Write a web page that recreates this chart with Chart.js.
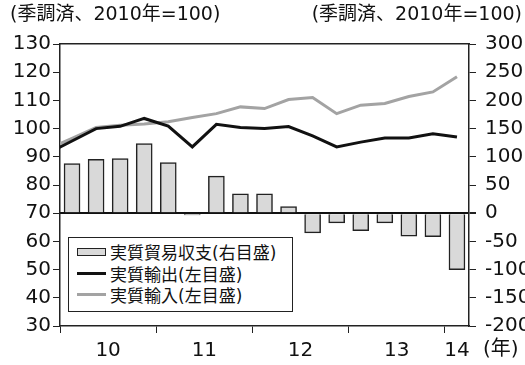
<!DOCTYPE html>
<html lang="ja">
<head>
<meta charset="utf-8">
<title>実質輸出入と実質貿易収支</title>
<script src="https://cdn.jsdelivr.net/npm/chart.js@4.4.1/dist/chart.umd.min.js"></script>
<style>
  body { margin: 0; background: #fff; }
  #wrap { position: relative; width: 525px; height: 365px; }
  #legend {
    position: absolute; left: 68px; top: 237px; width: 225px; height: 75px;
    box-sizing: border-box; border: 1.5px solid #222; background: #fff;
    padding: 3px 0 0 8px; color: #111;
    font: 17px "DejaVu Sans", "Noto Sans CJK JP", sans-serif;
  }
  .row { display: flex; align-items: center; height: 21.5px; white-space: nowrap; }
  .sw { width: 29px; margin-right: 4px; box-sizing: border-box; }
</style>
</head>
<body>
<div id="wrap">
  <canvas id="myChart" width="525" height="365"></canvas>
  <div id="legend"></div>
</div>
<script>
const quarters = ["2009Q4",
  "2010Q1", "2010Q2", "2010Q3", "2010Q4",
  "2011Q1", "2011Q2", "2011Q3", "2011Q4",
  "2012Q1", "2012Q2", "2012Q3", "2012Q4",
  "2013Q1", "2013Q2", "2013Q3", "2013Q4",
  "2014Q1"]
const yearLabels = ["10", "11", "12", "13", "14"]

// 実質輸出・実質輸入 (2010年=100, 左目盛)
const realExports = [91.3, 95.6, 100.0, 100.8, 103.6, 100.9, 93.5, 101.5, 100.4,
  100.0, 100.7, 97.4, 93.5, 95.2, 96.7, 96.7, 98.2, 97.0]
const realImports = [92.8, 96.5, 100.4, 101.2, 101.6, 102.4, 103.9, 105.3, 107.7,
  107.1, 110.3, 111.0, 105.3, 108.3, 108.9, 111.4, 113.0, 118.4]
// 実質貿易収支 (右目盛)
const tradeBalance = [null, 87.8, 95.5, 96.7, 123.4, 89.6, -3, 65.8, 34.5,
  34.5, 11.9, -34.9, -17.1, -30.8, -17.1, -40.9, -41.4, -100.1]

const leftTicks = { min: 30, max: 130, step: 10 }
const rightTicks = { min: -200, max: 300, step: 50 }
const axisTitle = "(季調済、2010年=100)"
const unitLabel = "(年)"

const fam = '"DejaVu Sans", "Noto Sans CJK JP", sans-serif'
Chart.defaults.font.family = fam
Chart.defaults.color = "#111"

// 年の区切りと年ラベルの位置
const years = quarters.map(q => q.slice(2, 4))
const yearTicks = []
yearLabels.forEach(y => {
  const idx = years.map((v, i) => v === y ? i : -1).filter(i => i >= 0)
  yearTicks.push({ value: idx[0] - 0.5, label: "" })
  yearTicks.push({ value: (idx[0] + idx[idx.length - 1]) / 2, label: y })
})

const toPoints = arr => quarters.map((q, i) => ({ x: i, y: arr[i] }))

const notes = {
  id: "notes",
  afterDraw(chart) {
    const ctx = chart.ctx
    const xs = chart.scales.x
    ctx.save()
    ctx.fillStyle = "#111"
    ctx.textBaseline = "middle"
    ctx.font = "19px " + fam
    ctx.textAlign = "left"
    ctx.fillText(axisTitle, 10, 15)
    ctx.textAlign = "right"
    ctx.fillText(axisTitle, chart.width - 3, 15)
    ctx.font = "20px " + fam
    ctx.textAlign = "left"
    ctx.fillText(unitLabel, xs.right + 14, xs.top + 24)
    ctx.restore()
  }
}

const config = {
  type: "line",
  data: {
    datasets: [
      {
        type: "bar",
        label: "実質貿易収支(右目盛)",
        data: toPoints(tradeBalance),
        yAxisID: "yR",
        backgroundColor: "#d9d9d9",
        borderColor: "#222",
        borderWidth: 1.5,
        barThickness: 16,
        order: 2
      },
      {
        label: "実質輸出(左目盛)",
        data: toPoints(realExports),
        yAxisID: "yL",
        borderColor: "#111",
        borderWidth: 3,
        pointRadius: 0,
        clip: 0,
        order: 0
      },
      {
        label: "実質輸入(左目盛)",
        data: toPoints(realImports),
        yAxisID: "yL",
        borderColor: "#a3a3a3",
        borderWidth: 3,
        pointRadius: 0,
        clip: 0,
        order: 1
      }
    ]
  },
  options: {
    responsive: false,
    animation: false,
    devicePixelRatio: 1,
    layout: { padding: { top: 44, left: 0, right: 0, bottom: 0 } },
    plugins: { legend: { display: false }, tooltip: { enabled: false } },
    scales: {
      x: {
        type: "linear",
        position: "bottom",
        min: 0.5,
        max: quarters.length - 0.5,
        offset: false,
        afterBuildTicks: scale => { scale.ticks = yearTicks.map(t => ({ value: t.value })) },
        afterFit: scale => { scale.height = 39 },
        ticks: {
          autoSkip: false,
          maxRotation: 0,
          padding: 6,
          font: { size: 20 },
          callback: value => {
            const t = yearTicks.find(t => t.value === value)
            return t ? t.label : ""
          }
        },
        grid: {
          offset: false,
          drawOnChartArea: false,
          tickLength: 7,
          tickColor: ctx => (ctx.tick && yearTicks.find(t => t.value === ctx.tick.value && t.label === "")) ? "#222" : "rgba(0,0,0,0)"
        },
        border: { color: "#222", width: 1.5 }
      },
      xTop: {
        type: "linear",
        position: "top",
        min: 0,
        max: 1,
        ticks: { display: false },
        grid: { drawOnChartArea: false, drawTicks: false },
        border: { color: "#222", width: 1.5 }
      },
      yL: {
        type: "linear",
        position: "left",
        min: leftTicks.min,
        max: leftTicks.max,
        afterFit: scale => { scale.width = 60 },
        ticks: { stepSize: leftTicks.step, padding: 2, font: { size: 20 } },
        grid: { drawOnChartArea: false, tickLength: 7, tickColor: "#222" },
        border: { color: "#222", width: 1.5 }
      },
      yR: {
        type: "linear",
        position: "right",
        min: rightTicks.min,
        max: rightTicks.max,
        afterFit: scale => { scale.width = 56 },
        ticks: { stepSize: rightTicks.step, padding: 9, font: { size: 20 } },
        grid: {
          color: ctx => ctx.tick && ctx.tick.value === 0 ? "#111" : "rgba(0,0,0,0)",
          lineWidth: ctx => ctx.tick && ctx.tick.value === 0 ? 2 : 1,
          tickLength: 7,
          tickColor: "#222"
        },
        border: { color: "#222", width: 1.5 }
      }
    }
  },
  plugins: [notes]
}

const myChart = new Chart(document.getElementById("myChart"), config)

// 凡例
const legend = document.getElementById("legend")
myChart.data.datasets.forEach(ds => {
  const row = document.createElement("div")
  row.className = "row"
  const sw = document.createElement("div")
  sw.className = "sw"
  if (ds.type === "bar") {
    sw.style.height = "8px"
    sw.style.background = ds.backgroundColor
    sw.style.border = "1.5px solid " + ds.borderColor
  } else {
    sw.style.height = "3px"
    sw.style.background = ds.borderColor
  }
  const txt = document.createElement("span")
  txt.textContent = ds.label
  row.appendChild(sw)
  row.appendChild(txt)
  legend.appendChild(row)
})
</script>
</body>
</html>
